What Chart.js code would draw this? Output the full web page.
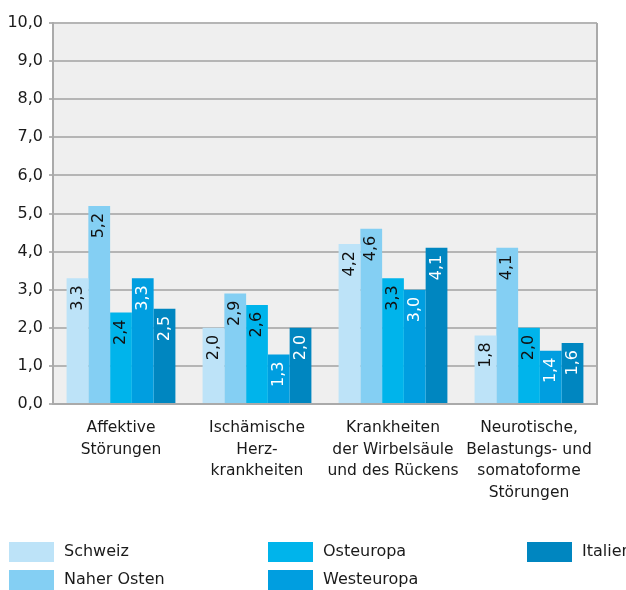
<!DOCTYPE html>
<html><head><meta charset="utf-8">
<script src="https://cdn.jsdelivr.net/npm/chart.js@4/dist/chart.umd.min.js"></script>
<style>html,body{margin:0;padding:0;background:#fff}#wrap{width:626px;height:590px;position:relative}</style>
</head><body><div id="wrap"><canvas id="c" width="626" height="590"></canvas></div>
<script>
const categories = [
  ["Affektive","Störungen"],
  ["Ischämische","Herz-","krankheiten"],
  ["Krankheiten","der Wirbelsäule","und des Rückens"],
  ["Neurotische,","Belastungs- und","somatoforme","Störungen"]
];
const seriesNames = ["Schweiz","Naher Osten","Osteuropa","Westeuropa","Italien"];
const schweiz    = [3.3, 2.0, 4.2, 1.8];
const naherOsten = [5.2, 2.9, 4.6, 4.1];
const osteuropa  = [2.4, 2.6, 3.3, 2.0];
const westeuropa = [3.3, 1.3, 3.0, 1.4];
const italien    = [2.5, 2.0, 4.1, 1.6];
const yTickValues = [0,1,2,3,4,5,6,7,8,9,10];

const seriesValues = [schweiz, naherOsten, osteuropa, westeuropa, italien];
const colors = ["#bde3f8","#84cff3","#00b4eb","#009ee0","#0086c0"];
const labelColors = ["#111","#111","#111","#fff","#fff"];
const FONT = "'DejaVu Sans', sans-serif";
const fmt = v => v.toFixed(1).replace('.', ',');

const bgPlugin = {
  id: 'bg',
  beforeDraw(chart) {
    const {ctx, chartArea: a} = chart;
    ctx.save();
    ctx.fillStyle = '#efefef';
    ctx.fillRect(a.left, a.top, a.right - a.left, a.bottom - a.top);
    ctx.restore();
  },
  afterDraw(chart) {
    const {ctx, chartArea: a} = chart;
    ctx.save();
    ctx.strokeStyle = '#aaaaaa';
    ctx.lineWidth = 2;
    ctx.beginPath();
    ctx.moveTo(a.right, a.top);
    ctx.lineTo(a.right, a.bottom + 1);
    ctx.stroke();
    ctx.restore();
  }
};

const valueLabels = {
  id: 'valueLabels',
  afterDatasetsDraw(chart) {
    const {ctx} = chart;
    ctx.save();
    ctx.font = "16px " + FONT;
    chart.data.datasets.forEach((ds, i) => {
      const meta = chart.getDatasetMeta(i);
      meta.data.forEach((el, j) => {
        ctx.save();
        ctx.translate(el.x, el.y + 7);
        ctx.rotate(-Math.PI / 2);
        ctx.fillStyle = labelColors[i];
        ctx.textAlign = 'right';
        ctx.textBaseline = 'middle';
        ctx.fillText(fmt(ds.data[j]), 0, 0);
        ctx.restore();
      });
    });
    ctx.restore();
  }
};

const legendPos = [[9,542],[9,570],[268,542],[268,570],[527,542]];
const customLegend = {
  id: 'customLegend',
  afterDraw(chart) {
    const {ctx} = chart;
    ctx.save();
    ctx.font = "16px " + FONT;
    ctx.textBaseline = 'middle';
    ctx.textAlign = 'left';
    chart.data.datasets.forEach((ds, i) => {
      const [x, y] = legendPos[i];
      ctx.fillStyle = ds.backgroundColor;
      ctx.fillRect(x, y, 45, 20);
      ctx.fillStyle = '#1a1a1a';
      ctx.fillText(ds.label, x + 55, y + 10);
    });
    ctx.restore();
  }
};

new Chart(document.getElementById('c'), {
  type: 'bar',
  data: {
    labels: categories,
    datasets: seriesNames.map((n, i) => ({
      label: n,
      data: seriesValues[i],
      backgroundColor: colors[i],
      borderWidth: 0,
      barPercentage: 1.0,
      categoryPercentage: 0.8
    }))
  },
  options: {
    responsive: false,
    animation: false,
    devicePixelRatio: 1,
    layout: {padding: {top: 23, right: 29, left: 0, bottom: 0}},
    plugins: {legend: {display: false}, tooltip: {enabled: false}},
    scales: {
      x: {
        grid: {display: false, drawTicks: false},
        border: {display: true, color: '#aaaaaa', width: 2},
        ticks: {
          color: '#1a1a1a',
          font: {family: FONT, size: 15.5, lineHeight: 1.4},
          padding: 13,
          maxRotation: 0,
          autoSkip: false
        },
        afterFit(scale) { scale.height = 186; }
      },
      y: {
        min: 0, max: 10,
        afterBuildTicks(scale) { scale.ticks = yTickValues.map(v => ({value: v})); },
        grid: {color: '#b5b5b5', lineWidth: 2, tickLength: 4},
        border: {display: true, color: '#aaaaaa', width: 2},
        ticks: {
          color: '#1a1a1a',
          font: {family: FONT, size: 16},
          padding: 6,
          callback: v => fmt(v)
        },
        afterFit(scale) { scale.width = 53; }
      }
    }
  },
  plugins: [bgPlugin, valueLabels, customLegend]
});
</script>
</body></html>
